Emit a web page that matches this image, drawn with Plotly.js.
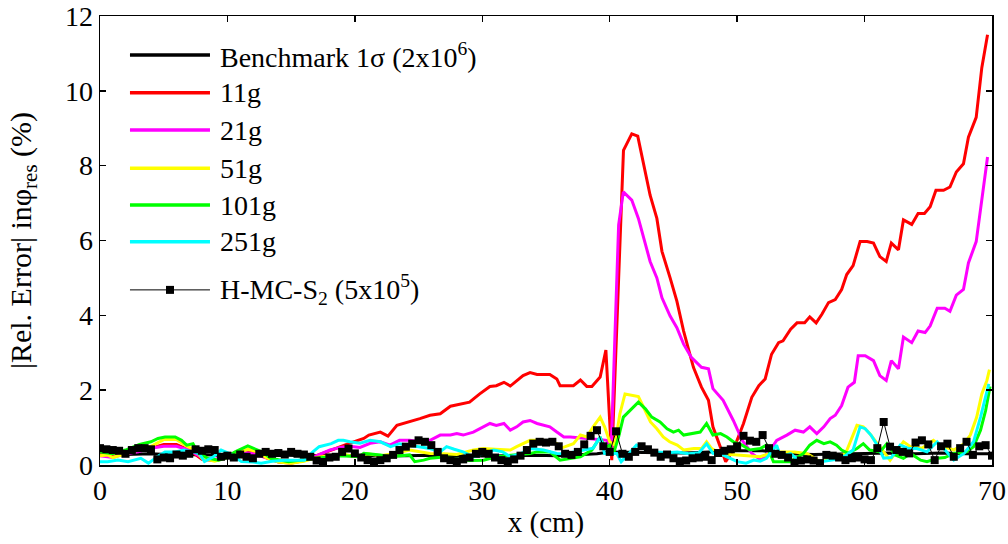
<!DOCTYPE html>
<html>
<head>
<meta charset="utf-8">
<script src="https://cdn.plot.ly/plotly-3.0.1.min.js"></script>
<style>html,body{margin:0;padding:0;background:#fff;}#chart{width:1008px;height:544px;}</style>
</head>
<body>
<div id="chart"></div>
<script>
// ---- Data ----
const seriesNames = ["Benchmark 1σ (2x10<sup>6</sup>)", "11g", "21g", "51g", "101g", "251g", "H-MC-S<sub>2</sub> (5x10<sup>5</sup>)"];

const benchX = [0,2,4,6,8,10,12,14,16,18,20,22,24,26,28,30,32,34,36,38,39,40,41,42,44,46,48,50,52,54,56,58,60,62,64,66,68,70];
const benchY = [0.30,0.28,0.30,0.27,0.28,0.25,0.26,0.27,0.25,0.26,0.25,0.24,0.25,0.26,0.25,0.24,0.25,0.26,0.25,0.27,0.30,0.35,0.35,0.35,0.33,0.32,0.35,0.38,0.38,0.30,0.28,0.30,0.30,0.32,0.30,0.32,0.30,0.30];

const g11X = [0,1,2,3,4,5,6,7,8,9,10,11,12,13,14,15,16,17,17.9,19,19.5,20.7,21.1,22,22.6,23.3,24.3,25.1,25.9,26.7,27.5,28.5,29,29.8,30.6,31.1,31.7,32.2,32.7,33.2,33.75,34.3,35.3,35.85,36.1,37.15,37.7,38.2,38.6,39.25,39.7,40.16,41.08,41.73,42.2,42.65,43.17,43.7,44.1,44.74,45.27,45.8,46.57,47.2,47.75,48.1,48.67,49.1,49.7,50.5,51.15,51.7,52.2,52.7,53.25,53.6,54.2,54.7,55.3,55.7,56.2,56.65,57.17,57.7,58.2,58.6,59.1,59.65,60.2,60.7,61.2,61.7,62.1,62.66,63.05,63.7,64.2,64.7,65.15,65.6,66.2,66.7,67.2,67.76,68.15,68.76,69.2,69.65];
const g11Y = [0.30,0.25,0.35,0.40,0.45,0.55,0.55,0.40,0.15,0.12,0.25,0.38,0.35,0.20,0.08,0.05,0.12,0.25,0.37,0.50,0.57,0.71,0.80,0.88,0.77,1.06,1.15,1.24,1.33,1.37,1.57,1.65,1.68,1.90,2.10,2.12,2.21,2.11,2.24,2.39,2.47,2.42,2.42,2.30,2.12,2.12,2.27,2.10,2.10,2.35,3.07,0.13,8.41,8.85,8.79,8.10,7.21,6.59,5.71,5.00,4.38,3.58,2.61,2.08,1.73,1.02,0.49,0.09,0.40,1.11,1.81,2.12,2.30,2.96,3.27,3.32,3.63,3.80,3.80,3.96,3.80,4.03,4.34,4.42,4.69,5.09,5.33,5.97,5.97,5.93,5.57,5.44,5.93,5.75,6.55,6.43,6.72,6.72,6.90,7.34,7.34,7.43,7.83,8.05,8.76,9.29,10.62,11.50];

const g21X = [0,1,2,3,4,5,6,7,8,9,10,11,12,13,14,15,16,17,18.05,18.84,19.6,20.4,21.2,22,22.76,23.5,24.3,25.1,25.9,26.7,27.5,28,28.5,29.3,30.1,30.6,31.1,31.7,32.2,32.7,33.2,33.75,34.3,35.3,35.85,36.4,36.9,37.7,38.5,39.3,39.8,40.1,40.7,41.07,41.73,42.25,42.65,43.17,43.7,44.1,44.74,45.27,45.8,46.4,47.2,47.75,48.1,48.9,49.7,50.4,51.15,51.9,52.6,53.1,53.9,54.55,55.2,55.7,56.25,56.8,57.3,57.7,58.2,58.7,59.2,59.5,60.05,60.7,61.2,61.7,62.1,62.66,63.05,63.7,64.2,64.75,65.15,65.7,66.3,66.7,67.2,67.76,68.15,68.76,69.65];
const g21Y = [0.25,0.20,0.30,0.35,0.45,0.50,0.50,0.40,0.20,0.15,0.25,0.35,0.30,0.20,0.10,0.08,0.15,0.25,0.40,0.47,0.50,0.47,0.58,0.62,0.53,0.66,0.66,0.62,0.66,0.80,0.80,0.84,0.80,0.88,1.02,1.11,1.06,1.11,0.93,1.02,1.15,1.19,1.11,1.02,0.88,0.75,0.75,0.72,0.70,0.68,0.66,0.30,6.42,7.30,7.08,6.59,6.06,5.44,5.00,4.47,3.98,3.67,3.23,2.88,2.61,2.57,2.04,1.73,1.19,0.66,0.31,0.13,0.40,0.66,0.80,0.93,0.88,1.02,0.84,1.02,1.24,1.33,1.59,2.08,2.21,2.92,2.92,2.79,2.39,2.26,2.79,2.57,3.42,3.27,3.58,3.54,3.72,4.19,4.19,4.11,4.54,4.69,5.40,5.97,8.23];

const g51X = [0,0.6,1,2,3,4,5,6,6.8,7.5,8,9,10,10.6,11.6,12.4,13,14,15,16,17,18,19,20,21,22,23,24.3,25.1,25.9,27,28,29.3,30.1,31,32.2,32.7,33.2,33.75,34.8,35.85,36.1,37.15,37.7,38.2,38.7,39.25,39.6,40,40.4,40.8,41.2,41.7,42.25,42.65,43.2,43.7,44.2,44.7,45.3,45.8,46.6,47.2,47.6,48,48.7,49.5,50.5,51.8,52.5,53.4,54.5,55.5,56.5,57.5,58.5,59.4,59.9,60.4,60.8,61.2,62,63.05,63.6,64.5,65.4,65.9,67,67.8,68.3,68.8,69.2,69.6,69.8];
const g51Y = [0.25,0.27,0.20,0.30,0.38,0.50,0.68,0.68,0.50,0.40,0.18,0.10,0.20,0.30,0.42,0.35,0.20,0.08,0.05,0.10,0.20,0.25,0.30,0.22,0.30,0.25,0.30,0.40,0.35,0.31,0.30,0.28,0.40,0.44,0.42,0.40,0.49,0.57,0.66,0.66,0.57,0.44,0.57,0.80,0.75,1.02,1.28,1.02,0.62,0.53,1.37,1.90,1.86,1.83,1.55,1.15,0.97,0.75,0.62,0.53,0.40,0.44,0.44,0.62,0.44,0.31,0.28,0.25,0.22,0.30,0.35,0.35,0.30,0.09,0.20,0.30,1.06,1.02,0.84,0.66,0.49,0.13,0.62,0.49,0.45,0.66,0.53,0.40,0.57,0.80,1.28,1.90,2.26,2.55];

const g101X = [0,1,2,3.1,4,4.55,5.1,5.9,6.4,6.8,7.3,7.7,8.5,9.3,9.8,10.6,11.6,12.1,12.7,13.4,14.8,15.5,16.5,17.5,18.05,19,20.3,20.7,22,22.76,24.3,24.7,25.4,25.9,27.2,28.2,29,30.1,31.1,32.2,33.75,34.3,35.3,35.85,36.1,37.7,38.6,39.25,39.6,40,40.3,40.7,41.07,41.6,42.25,42.8,43.3,43.95,44.5,45,45.4,45.8,46.4,47.1,47.6,48.1,48.7,49.2,49.7,50.4,51,51.8,52.3,52.85,54.2,55.2,55.7,56.25,56.8,57.3,57.8,58.2,58.7,59.4,59.9,60.4,61.2,61.75,62.4,63.05,63.6,64.4,64.9,65.7,66.3,67,68,68.55,69.1,69.5,69.85];
const g101Y = [0.35,0.30,0.40,0.55,0.62,0.71,0.75,0.75,0.66,0.53,0.57,0.31,0.18,0.13,0.18,0.35,0.51,0.44,0.35,0.18,0.09,0.12,0.15,0.20,0.22,0.25,0.22,0.31,0.27,0.22,0.27,0.09,0.13,0.18,0.22,0.15,0.12,0.13,0.22,0.25,0.31,0.35,0.35,0.20,0.13,0.22,0.40,0.75,0.45,0.53,0.31,0.75,1.28,1.46,1.68,1.50,1.28,1.15,0.97,0.88,0.93,0.80,0.84,0.88,1.11,0.80,0.84,0.75,0.62,0.53,0.40,0.44,0.53,0.09,0.09,0.31,0.53,0.66,0.57,0.62,0.53,0.40,0.31,0.44,0.57,0.40,0.35,0.57,0.27,0.18,0.31,0.13,0.09,0.18,0.20,0.31,0.35,0.49,0.93,1.46,2.10];

const g251X = [0,0.6,1.4,2.2,3.2,3.8,4.7,5.1,5.9,6.6,7.3,7.8,8.2,8.9,9.5,10.2,11.1,12,12.65,13.5,14.5,15.3,16.05,16.7,17.2,18.15,18.7,19.1,19.6,20.4,21.2,22,22.8,23.5,24.3,25.1,25.9,26.7,27.2,27.8,28.5,29.3,30.1,30.9,31.6,32.2,33,33.75,34.8,35.85,36.5,37.3,38.2,38.7,39.25,39.6,40.55,40.9,41.5,42.1,42.9,43.7,44.5,45.3,46.2,47,47.6,48.1,48.7,49.2,50,50.7,51.3,51.8,52.3,53.1,53.4,54.2,54.95,55.8,56.8,57.8,58.5,59.1,59.65,60.05,60.5,61,61.5,62.1,62.8,63.4,64.1,64.9,65.7,66.2,67,67.8,68.55,69.1,69.75];
const g251Y = [0.09,0.09,0.13,0.09,0.18,0.05,0.27,0.35,0.35,0.40,0.35,0.30,0.09,0.22,0.40,0.30,0.09,0.08,0.05,0.10,0.13,0.13,0.13,0.35,0.49,0.57,0.66,0.66,0.62,0.58,0.66,0.62,0.49,0.57,0.53,0.49,0.44,0.35,0.49,0.42,0.35,0.22,0.32,0.40,0.35,0.22,0.30,0.44,0.40,0.31,0.30,0.35,0.40,0.45,0.75,0.31,0.31,0.09,0.30,0.53,0.40,0.35,0.33,0.35,0.30,0.33,0.57,0.31,0.30,0.22,0.09,0.05,0.13,0.10,0.18,0.53,0.22,0.30,0.09,0.12,0.10,0.15,0.25,0.40,1.02,0.97,0.80,0.53,0.18,0.20,0.53,0.45,0.44,0.35,0.62,0.45,0.13,0.31,0.62,1.28,2.17];

const hmcX = [0,0.5,1,1.5,2,2.5,3,3.5,4,4.5,5,5.5,6,6.5,7,7.5,8,8.5,9,9.5,10,10.5,11,11.5,12,12.5,13,13.5,14,14.5,15,15.5,16,16.5,17,17.5,18,18.5,19,19.5,20,20.5,21,21.5,22,22.5,23,23.5,24,24.5,25,25.5,26,26.5,27,27.5,28,28.5,29,29.5,30,30.5,31,31.5,32,32.5,33,33.5,34,34.5,35,35.5,36,36.5,37,37.5,38,38.5,39,39.5,40,40.5,41,41.5,42,42.5,43,43.5,44,44.5,45,45.5,46,46.5,47,47.5,48,48.5,49,49.5,50,50.5,51,51.5,52,52.5,53,53.5,54,54.5,55,55.5,56,56.5,57,57.5,58,58.5,59,59.5,60,60.5,61,61.5,62,62.5,63,63.5,64,64.5,65,65.5,66,66.5,67,67.5,68,68.5,69,69.5,70];
const hmcY = [0.45,0.42,0.40,0.38,0.30,0.40,0.45,0.45,0.42,0.15,0.20,0.18,0.28,0.25,0.30,0.42,0.38,0.42,0.40,0.22,0.25,0.20,0.28,0.22,0.18,0.30,0.35,0.30,0.32,0.28,0.35,0.30,0.28,0.22,0.12,0.08,0.20,0.22,0.35,0.44,0.31,0.20,0.13,0.09,0.13,0.18,0.27,0.40,0.49,0.57,0.66,0.62,0.53,0.35,0.18,0.13,0.10,0.15,0.20,0.30,0.35,0.30,0.20,0.13,0.10,0.15,0.25,0.40,0.57,0.62,0.60,0.62,0.50,0.30,0.27,0.35,0.55,0.78,0.93,0.50,0.35,0.90,0.30,0.22,0.35,0.50,0.42,0.33,0.22,0.28,0.18,0.10,0.12,0.18,0.20,0.22,0.13,0.32,0.38,0.42,0.50,0.78,0.65,0.62,0.80,0.45,0.30,0.27,0.20,0.06,0.12,0.15,0.12,0.05,0.27,0.25,0.20,0.13,0.18,0.20,0.15,0.13,0.45,1.15,0.49,0.40,0.35,0.31,0.60,0.66,0.55,0.13,0.50,0.57,0.22,0.45,0.62,0.27,0.50,0.53,0.25];

const xTicks = [0,10,20,30,40,50,60,70];
const yTicks = [0,2,4,6,8,10,12];

const colors = ["#000000", "#FF0000", "#FF00FF", "#FFFF00", "#00FF00", "#00FFFF", "#000000"];

// ---- Traces ----
const lineSets = [[benchX, benchY], [g11X, g11Y], [g21X, g21Y], [g51X, g51Y], [g101X, g101Y], [g251X, g251Y]];
const traces = lineSets.map((s, i) => ({
  x: s[0], y: s[1], type: 'scatter', mode: 'lines', name: seriesNames[i],
  line: {color: colors[i], width: 3}, showlegend: false
}));
traces.push({
  x: hmcX, y: hmcY, type: 'scatter', mode: 'lines+markers', name: seriesNames[6],
  line: {color: '#000000', width: 1},
  marker: {symbol: 'square', size: 8, color: '#000000'}, showlegend: false
});

// ---- Custom legend (paper coordinates) ----
const plotH = 449, plotW = 892;
const legY = [0.913, 0.829, 0.746, 0.661, 0.579, 0.497, 0.390];
const lx0 = 0.0336, lx1 = 0.1233, ltx = 0.1323;
const shapes = [];
const annotations = [];
legY.forEach((yy, i) => {
  shapes.push({type: 'line', xref: 'paper', yref: 'paper', x0: lx0, x1: lx1, y0: yy, y1: yy,
    line: {color: colors[i], width: i === 6 ? 1 : 3.5}});
  annotations.push({xref: 'paper', yref: 'paper', x: ltx, y: yy, xanchor: 'left', yanchor: 'middle',
    text: seriesNames[i], showarrow: false, font: {family: 'Liberation Serif', size: 28, color: '#000'}});
});
// marker for H-MC legend entry
const mx = (lx0 + lx1) / 2;
shapes.push({type: 'rect', xref: 'paper', yref: 'paper', x0: mx - 4/plotW, x1: mx + 4/plotW, y0: legY[6] - 4/plotH, y1: legY[6] + 4/plotH,
  fillcolor: '#000', line: {width: 0}});

const layout = {
  width: 1008, height: 544,
  margin: {l: 100, r: 16, t: 16, b: 79},
  paper_bgcolor: '#fff', plot_bgcolor: '#fff',
  font: {family: 'Liberation Serif', size: 28, color: '#000'},
  showlegend: false,
  xaxis: {
    range: [0, 70], tickvals: xTicks, ticktext: xTicks.map(String),
    ticks: 'inside', ticklen: 6, tickwidth: 1.5, tickcolor: '#000',
    showline: true, linecolor: '#000', linewidth: 1.5, mirror: 'ticks',
    showgrid: false, zeroline: false, ticklabeloverflow: 'allow',
    tickfont: {family: 'Liberation Serif', size: 28},
    title: {text: 'x (cm)', font: {family: 'Liberation Serif', size: 29}, standoff: 6}
  },
  yaxis: {
    range: [0, 12], tickvals: yTicks, ticktext: yTicks.map(String),
    ticks: 'inside', ticklen: 6, tickwidth: 1.5, tickcolor: '#000',
    showline: true, linecolor: '#000', linewidth: 1.5, mirror: 'ticks',
    showgrid: false, zeroline: false, ticklabeloverflow: 'allow',
    tickfont: {family: 'Liberation Serif', size: 28},
    title: {text: '|Rel. Error| inφ<sub>res</sub> (%)', font: {family: 'Liberation Serif', size: 30}, standoff: 24}
  },
  shapes: shapes,
  annotations: annotations
};

Plotly.newPlot('chart', traces, layout, {displayModeBar: false, staticPlot: true});
</script>
</body>
</html>
